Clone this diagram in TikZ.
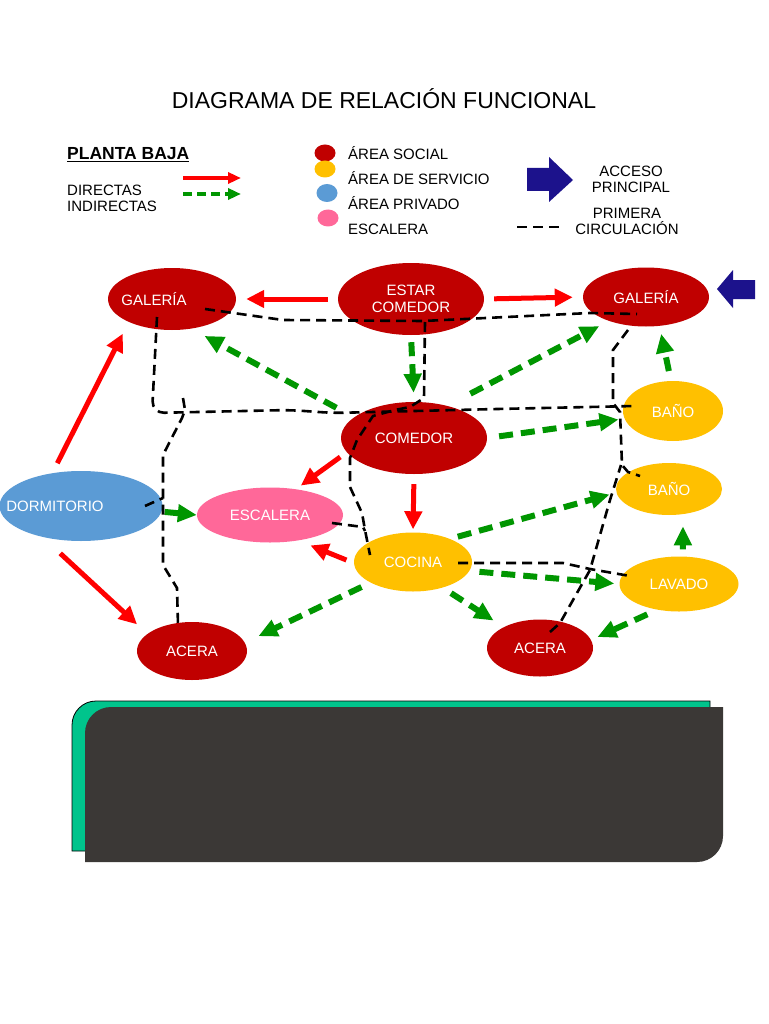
\documentclass[tikz,border=0pt]{standalone}
\usepackage{fontspec}
\setmainfont{Liberation Sans}
\usetikzlibrary{shapes.geometric,arrows.meta,calc}

\definecolor{socialred}{RGB}{192,0,0}
\definecolor{servyellow}{RGB}{255,192,0}
\definecolor{privblue}{RGB}{91,155,213}
\definecolor{stairpink}{RGB}{255,104,153}
\definecolor{arrowred}{RGB}{255,0,0}
\definecolor{arrowgreen}{RGB}{0,150,0}
\definecolor{accessblue}{RGB}{28,18,140}
\definecolor{boxgreen}{RGB}{0,196,140}
\definecolor{boxdark}{RGB}{59,56,54}

\begin{document}
\begin{tikzpicture}[x=1pt,y=-1pt,
    area/.style={ellipse,inner sep=0pt,text=white,align=center,
      font=\fontsize{15}{17}\selectfont},
    social/.style={area,fill=socialred},
    service/.style={area,fill=servyellow},
    private/.style={area,fill=privblue},
    stair/.style={area,fill=stairpink},
    key/.style={ellipse,inner sep=0pt,minimum width=21,minimum height=17},
    keytext/.style={anchor=west,inner sep=0pt,font=\fontsize{15}{18}\selectfont},
    direct/.style={draw=arrowred,line width=5pt,-{Triangle[length=18pt,width=17pt]}},
    indirect/.style={draw=arrowgreen,line width=6pt,dash pattern=on 14pt off 8pt,
      -{Triangle[length=19pt,width=17pt]}},
    circ/.style={draw=black,line width=2.6pt,dash pattern=on 10pt off 6pt}]

  \fill[white] (0,0) rectangle (768,1024);
  \useasboundingbox (0,0) rectangle (768,1024);

  % title and legend
  \node[font=\fontsize{23}{27}\selectfont] (title) at (384,99) {DIAGRAMA DE RELACIÓN FUNCIONAL};
  \node[keytext,font=\fontsize{17.5}{20}\selectfont\bfseries] (planta) at (67,155) {\underline{PLANTA BAJA}};
  \node[keytext,align=left,font=\fontsize{15}{16}\selectfont] (tipos) at (67,198) {DIRECTAS\\INDIRECTAS};
  \draw[direct,-{Triangle[length=13pt,width=11pt]},line width=3.5pt] (183,178) -- (241,178);
  \draw[indirect,-{Triangle[length=13pt,width=11pt]},line width=3.5pt,dash pattern=on 9pt off 5pt] (183,194) -- (241,194);

  \node[key,fill=socialred] (keySocial) at (325,153) {};
  \node[key,fill=servyellow] (keyService) at (325,169) {};
  \node[key,fill=privblue,minimum height=18] (keyPrivate) at (327,193) {};
  \node[key,fill=stairpink] (keyStair) at (328,218) {};
  \node[keytext] at (348,153) {ÁREA SOCIAL};
  \node[keytext] at (348,178) {ÁREA DE SERVICIO};
  \node[keytext] at (348,203) {ÁREA PRIVADO};
  \node[keytext] at (348,229) {ESCALERA};

  \fill[accessblue] (527,168) -- (549,168) -- (549,157) -- (573,180) -- (549,202) -- (549,191) -- (527,191) -- cycle;
  \node[align=center,font=\fontsize{15}{16}\selectfont] (acceso) at (631,179) {ACCESO\\PRINCIPAL};
  \draw[circ] (517,227) -- (560,227);
  \node[align=center,font=\fontsize{15}{16}\selectfont] (primera) at (627,221) {PRIMERA\\CIRCULACIÓN};

  % areas
  \node[social,minimum width=128,minimum height=62] (galL) at (172,299) {\makebox[0pt]{\hspace{-36pt}GALERÍA}};
  \node[social,minimum width=146,minimum height=72] (estar) at (411,299) {ESTAR\\COMEDOR};
  \node[social,minimum width=126,minimum height=59] (galR) at (646,297) {GALERÍA};
  \node[social,minimum width=146,minimum height=72] (comedor) at (414,438) {COMEDOR};
  \node[service,minimum width=100,minimum height=60] (bano1) at (673,411) {BAÑO};
  \node[service,minimum width=106,minimum height=52] (bano2) at (669,489) {BAÑO};
  \node[private,minimum width=163,minimum height=70] (dorm) at (81,506) {\makebox[0pt]{\hspace{-52pt}DORMITORIO}};
  \node[stair,minimum width=146,minimum height=55] (escalera) at (270,515) {ESCALERA};
  \node[service,minimum width=118,minimum height=59] (cocina) at (413,562) {COCINA};
  \node[service,minimum width=119,minimum height=55] (lavado) at (679,584) {LAVADO};
  \node[social,minimum width=110,minimum height=58] (aceraL) at (192,651) {ACERA};
  \node[social,minimum width=106,minimum height=57] (aceraR) at (540,648) {ACERA};

  \fill[accessblue] (717,289) -- (733,270) -- (733,280) -- (755,280) -- (755,299) -- (733,299) -- (733,308) -- cycle;

  % direct relations
  \draw[direct,shorten <=10pt,shorten >=10pt] (estar.west) -- (galL.east);
  \draw[direct,shorten <=10pt,shorten >=10pt] (estar.east) -- (galR.west);
  \draw[direct,shorten <=11pt,shorten >=13pt] (dorm.131) -- (galL.208);
  \draw[direct,shorten <=24pt,shorten >=14pt] (dorm.219) -- (aceraL.159);
  \draw[direct,shorten <=8pt,shorten >=6pt] (comedor.192) -- (escalera.45);
  \draw[direct,shorten <=10pt,shorten >=3pt] (comedor.south) -- (cocina.north);
  \draw[direct,shorten <=8pt,shorten >=13pt] (cocina.181) -- (escalera.318);

  % indirect relations
  \draw[indirect,shorten <=20pt,shorten >=15pt] (comedor.161) -- (galL.303);
  \draw[indirect,shorten <=7pt,shorten >=9pt] (estar.south) -- (comedor.north);
  \draw[indirect,shorten <=26pt,shorten >=11pt] (comedor.44) -- (galR.213);
  \draw[indirect,shorten <=12pt,shorten >=6pt] (comedor.east) -- (bano1.189);
  \draw[indirect,shorten <=10pt,shorten >=8pt] (bano1.94) -- (galR.295);
  \draw[indirect,shorten <=3pt] (dorm.-4) -- (escalera.west);
  \draw[indirect,shorten <=8pt,shorten >=7pt] (cocina.32) -- (bano2.184);
  \draw[indirect,shorten <=10pt,shorten >=5pt] (cocina.-9) -- (lavado.west);
  \draw[indirect,shorten <=10pt,shorten >=15pt] (cocina.206) -- (aceraL.9);
  \draw[indirect,shorten <=10pt,shorten >=12pt] (cocina.319) -- (aceraR.150);
  \draw[indirect,shorten <=7pt,shorten >=12pt] (lavado.82) -- (bano2.299);
  \draw[indirect,shorten <=11pt,shorten >=7pt] (lavado.230) -- (aceraR.9);

  % first circulation
  \draw[circ] ($(galL)+(33,10)$) -- (283,320) -- (423,321) -- (590,313) -- ($(galR)+(-9,17)$);
  \draw[circ,rounded corners=12pt] ($(galL)+(-15,18)$) -- (152,413) -- (290,410) -- (333,413)
    -- (497,409) -- ($(bano1)+(-38,-5)$);
  \draw[circ] ($(estar)+(14,23)$) -- (424,398) -- (410,407) -- (395,410) -- (373,416) -- (357,440)
    -- (350,458) -- (350,487) -- (362,513) -- (365,530) -- ($(cocina)+(-43,-7)$);
  \draw[circ] (183,398) -- (185,410) -- (182,418) -- (163,455) -- (163,565) -- (177,588)
    -- ($(aceraL)+(-14,-26)$);
  \draw[circ] ($(dorm)+(64,0)$) -- (163,498);
  \draw[circ] ($(galR)+(-18,33)$) -- (613,350) -- (613,403) -- (620,412) -- (622,465) -- (628,472)
    -- ($(bano2)+(-29,-13)$);
  \draw[circ] ($(aceraR)+(10,-16)$) -- (560,623) -- (590,570) -- (610,500) -- (621,465);
  \draw[circ] ($(cocina)+(45,1)$) -- (563,563) -- (590,569) -- ($(lavado)+(-49,-8)$);
  \draw[circ] ($(escalera)+(62,8)$) -- (363,527) -- (365,531);

  % bottom panel
  \filldraw[fill=boxgreen,draw=black,line width=0.8pt] (72,851) -- (72,725)
    arc[start angle=180,end angle=270,radius=24] -- (710,701) -- (710,851) -- cycle;
  \fill[boxdark] (85,862) -- (85,733) arc[start angle=180,end angle=270,radius=26] -- (723,707)
    -- (723,836) arc[start angle=0,end angle=90,radius=26] -- cycle;
\end{tikzpicture}
\end{document}
